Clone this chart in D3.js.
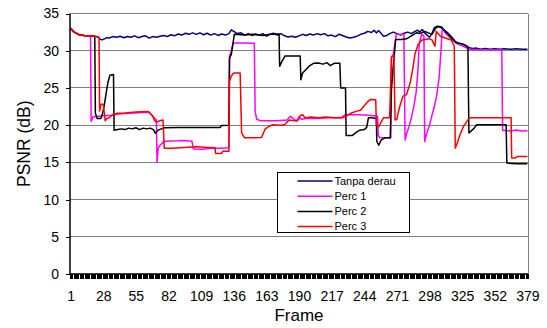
<!DOCTYPE html>
<html>
<head>
<meta charset="utf-8">
<script src="https://cdn.jsdelivr.net/npm/d3@7"></script>
<style>
  html, body { margin: 0; padding: 0; background: #fff; }
  svg { display: block; font-family: Arial, "Liberation Sans", sans-serif; }
</style>
</head>
<body>
<div id="chart"></div>
<script>
// Tick labels
const frameTicks = [1, 28, 55, 82, 109, 136, 163, 190, 217, 244, 271, 298, 325, 352, 379];
const psnrTicks = [0, 5, 10, 15, 20, 25, 30, 35];
const seriesNames = ["Tanpa derau", "Perc 1", "Perc 2", "Perc 3"];

// [frame, PSNR dB]
const tanpaDerau = [[1,33.0],[4,32.5],[8,32.15],[12,32.05],[16,32.0],[20,31.95],[23,31.9],[25,31.6],[27,31.45],[29,31.6],[31,31.75],[33,31.7],[36,31.9],[39,31.8],[42,31.95],[45,31.75],[48,31.9],[51,31.8],[54,32.0],[57,31.75],[60,31.9],[63,32.0],[66,31.7],[69,31.9],[72,31.8],[75,31.95],[78,32.05],[81,31.9],[84,32.15],[87,32.0],[90,32.25],[93,32.1],[96,32.35],[99,32.2],[102,32.4],[105,32.2],[108,32.4],[111,32.15],[114,32.35],[117,32.1],[120,32.3],[123,32.05],[126,32.25],[129,32.1],[132,32.3],[134,32.8],[136,32.6],[139,32.3],[142,32.4],[145,32.1],[148,32.3],[151,32.05],[154,32.25],[157,32.1],[160,32.3],[163,31.95],[166,32.2],[169,32.35],[172,32.1],[175,32.3],[178,32.0],[181,31.85],[184,31.95],[187,31.8],[190,32.0],[193,32.2],[196,32.05],[199,32.25],[202,32.1],[205,32.3],[208,32.15],[211,32.3],[214,32.0],[217,32.1],[220,31.9],[223,32.2],[226,32.05],[229,31.85],[232,31.7],[235,31.8],[238,31.95],[241,32.2],[244,32.35],[247,32.6],[250,32.45],[252,32.75],[254,32.4],[256,32.7],[258,32.3],[260,31.95],[262,32.0],[265,32.3],[268,32.5],[271,32.3],[274,32.1],[277,32.35],[280,32.5],[283,32.3],[286,32.6],[288,32.75],[290,32.5],[292,32.85],[294,32.4],[296,32.1],[298,31.8],[300,32.3],[302,33.1],[304,33.25],[306,33.2],[308,33.05],[310,32.8],[313,32.4],[316,31.9],[319,31.3],[322,31.0],[325,30.9],[328,30.7],[331,30.4],[334,30.3],[337,30.35],[340,30.2],[344,30.3],[348,30.2],[352,30.25],[356,30.2],[360,30.25],[365,30.2],[370,30.25],[375,30.2],[379,30.2]];

const perc1 = [[1,33.0],[4,32.5],[8,32.15],[12,32.05],[17.5,31.95],[18,20.5],[19.5,21.1],[24,21.2],[30,21.3],[35,21.3],[40,21.5],[50,21.6],[60,21.7],[66,21.7],[69,21.2],[72,20.7],[72.5,15.0],[73.5,16.9],[75,17.3],[77,17.6],[79.4,17.85],[90,17.9],[95,17.95],[101.4,17.85],[102.5,16.8],[110,16.75],[118,16.9],[126,16.9],[132,16.95],[132.5,29.3],[134,30.0],[135.5,31.05],[145,31.05],[153,31.0],[153.7,21.85],[155,20.8],[158,20.6],[165,20.6],[172,20.6],[180,20.7],[183,21.2],[185,20.9],[188,20.5],[190,21.1],[192,20.8],[196,20.9],[205,20.9],[215,21.0],[225,21.0],[228,21.4],[240,21.4],[250,21.3],[255,21.2],[255.6,18.6],[257,18.3],[266,18.3],[266.5,29.0],[268,29.5],[270.5,32.2],[276.8,32.2],[277.8,18.0],[279,18.8],[281,19.8],[283,21.0],[285,22.5],[287,24.5],[288.5,27.5],[289.5,31.0],[291.5,32.2],[293.4,32.0],[294,17.8],[295.5,18.8],[298,20.0],[300,21.3],[302,22.5],[304,24.0],[306,26.5],[307.5,30.0],[308.5,33.0],[311,32.4],[316,31.6],[320,31.0],[326,30.6],[331,30.2],[340,30.1],[350,30.1],[357.8,30.1],[358.5,19.3],[365,19.2],[370,19.35],[374,19.2],[379,19.25]];

const perc2 = [[1,33.0],[4,32.5],[8,32.15],[12,32.05],[16,32.0],[21,31.95],[21.5,21.6],[23,20.9],[26,20.9],[27.5,21.6],[29,22.8],[30.5,24.4],[32,25.8],[33.5,26.7],[36.5,26.8],[37,19.3],[40,19.4],[43,19.5],[46,19.4],[49,19.6],[52,19.5],[55,19.65],[58,19.4],[61,19.6],[64,19.5],[67,19.6],[69.5,19.4],[71.2,18.9],[73,19.3],[76,19.5],[79,19.65],[90,19.7],[100,19.7],[110,19.7],[124.8,19.7],[126,19.95],[132,20.0],[132.5,29.0],[134,29.5],[136.5,32.2],[145,32.1],[152,32.2],[160,32.05],[166,32.2],[173.5,32.25],[174,27.9],[176,28.6],[178.5,29.3],[185,29.3],[191,29.3],[191.5,26.1],[193,27.0],[196,27.5],[199,28.0],[202,28.3],[206,28.35],[210,28.2],[213,28.4],[216,28.0],[219,28.3],[223.8,28.3],[224.5,25.0],[228.5,25.0],[229,18.6],[234,18.6],[237,19.0],[240,19.3],[244,19.4],[246,19.7],[247.5,21.0],[250,21.0],[254,20.9],[254.4,17.8],[256,17.3],[258,18.0],[261,18.3],[265.5,18.3],[266.5,24.8],[268,27.9],[270,31.5],[275,31.5],[279,31.6],[283,32.0],[287,32.4],[290,32.3],[294,32.6],[297,32.4],[300,32.2],[303,33.0],[305,33.3],[308,33.2],[311,32.6],[314,32.1],[316,31.7],[320,31.1],[324,30.95],[327,30.8],[329.8,30.4],[330.6,18.95],[333,19.3],[335,19.6],[337,20.05],[345,20.05],[355,20.05],[361.4,20.05],[362,14.9],[370,14.8],[379,14.8]];

const perc3 = [[1,33.0],[4,32.5],[8,32.15],[12,32.05],[16,32.0],[20,31.95],[24.5,31.8],[25,21.9],[26,22.8],[28,22.8],[29,21.5],[29.6,20.6],[31,20.9],[33,21.0],[35,21.3],[37,21.5],[40,21.6],[45,21.6],[50,21.7],[55,21.75],[60,21.8],[65,21.85],[67,21.6],[69,21.2],[70.5,20.6],[72,20.4],[75,20.6],[77.5,20.7],[78.5,16.9],[85,16.9],[95,17.0],[105,17.1],[115,17.0],[120.5,16.95],[121,16.2],[126,16.2],[127,16.5],[132,16.5],[132.5,25.9],[134,26.6],[136,27.0],[141.3,27.0],[142.5,18.95],[145,18.3],[152,18.3],[159,18.35],[162,19.5],[165,19.8],[168,20.05],[175,20.0],[178.5,20.1],[180,20.4],[182,20.7],[186,20.6],[189.5,20.7],[191,21.3],[193,21.4],[195,21.0],[200,21.1],[206,21.0],[212,21.1],[220,21.0],[226,21.0],[229,21.2],[233,21.6],[237,21.85],[241,22.0],[244,22.6],[247.2,23.2],[249,23.45],[253.5,23.4],[254,20.1],[256,19.8],[258,20.4],[260,21.0],[265,21.0],[266.5,29.2],[268.5,29.4],[269.5,20.7],[271,20.8],[273,22.3],[276,23.9],[279,24.1],[282,25.7],[284,27.4],[286,29.6],[288.5,30.8],[291.5,31.4],[294,31.5],[298,31.6],[300,31.45],[302.5,30.6],[303.6,32.6],[307,31.95],[311,31.7],[316,31.45],[318.5,30.6],[319.3,16.9],[321,17.6],[323,18.6],[326,19.8],[329,20.5],[331,21.0],[340,21.0],[350,21.0],[360,21.0],[365.5,21.0],[366,15.6],[369,15.6],[371,15.8],[379,15.8]];

const seriesData = [tanpaDerau, perc1, perc2, perc3];
const seriesColors = ["#000080", "#ff00ff", "#000000", "#ff0000"];

// Layout
const width = 547, height = 328;
const margin = {top: 13.5, right: 19, bottom: 54, left: 70};
const plotRight = width - margin.right;
const plotBottom = height - margin.bottom;

const x = d3.scaleLinear()
  .domain([0.5, 379.5])
  .range([margin.left, plotRight]);
const y = d3.scaleLinear()
  .domain([0, 35])
  .range([plotBottom, margin.top]);

const svg = d3.select("#chart").append("svg")
  .attr("width", width)
  .attr("height", height)
  .attr("viewBox", [0, 0, width, height]);

// Gridlines and plot border
svg.append("g")
  .attr("stroke", "#808080")
  .attr("shape-rendering", "crispEdges")
  .call(g => g.selectAll("line")
    .data(psnrTicks.filter(d => d > 0))
    .join("line")
      .attr("x1", margin.left)
      .attr("x2", plotRight)
      .attr("y1", d => y(d))
      .attr("y2", d => y(d)))
  .call(g => g.append("line")
    .attr("x1", plotRight).attr("x2", plotRight)
    .attr("y1", y(35)).attr("y2", y(0)));

// Series
const line = d3.line()
  .x(d => x(d[0]))
  .y(d => y(d[1]));

svg.append("g")
  .attr("fill", "none")
  .attr("stroke-width", 1.5)
  .attr("stroke-linejoin", "round")
  .selectAll("path")
  .data(seriesData)
  .join("path")
    .attr("stroke", (d, i) => seriesColors[i])
    .attr("d", line);

// Y axis
svg.append("g")
  .attr("transform", `translate(${margin.left},0)`)
  .call(d3.axisLeft(y).tickValues(psnrTicks).tickSize(4).tickPadding(7))
  .call(g => g.select(".domain").remove())
  .call(g => g.selectAll(".tick line").attr("stroke", "#000").attr("shape-rendering", "crispEdges"))
  .call(g => g.selectAll(".tick text")
    .attr("font-size", 14)
    .attr("font-family", "Arial, 'Liberation Sans', sans-serif")
    .attr("fill", "#000"));

// X axis: dense category ticks, labels every 27 frames
svg.append("g")
  .attr("transform", `translate(0,${plotBottom})`)
  .call(d3.axisBottom(x).tickValues(d3.range(0.5, 380, 1)).tickSize(5).tickFormat(""))
  .call(g => g.select(".domain").remove())
  .call(g => g.selectAll(".tick line")
    .attr("stroke", "#000")
    .attr("stroke-width", 1)
    .attr("shape-rendering", "crispEdges"));

svg.append("g")
  .attr("transform", `translate(0,${plotBottom})`)
  .call(d3.axisBottom(x).tickValues(frameTicks).tickSize(0).tickPadding(17))
  .call(g => g.select(".domain").remove())
  .call(g => g.selectAll(".tick text")
    .attr("font-size", 14)
    .attr("font-family", "Arial, 'Liberation Sans', sans-serif")
    .attr("fill", "#000"));

// Axis lines
svg.append("g")
  .attr("stroke", "#000")
  .attr("stroke-width", 1.5)
  .call(g => g.append("line")
    .attr("x1", margin.left).attr("x2", margin.left)
    .attr("y1", y(35)).attr("y2", y(0)))
  .call(g => g.append("line")
    .attr("x1", margin.left).attr("x2", plotRight)
    .attr("y1", y(0)).attr("y2", y(0)));

// Axis titles
svg.append("text")
  .attr("x", (margin.left + plotRight) / 2)
  .attr("y", 321)
  .attr("text-anchor", "middle")
  .attr("font-size", 17)
  .text("Frame");

svg.append("text")
  .attr("transform", `translate(30,${(margin.top + plotBottom) / 2}) rotate(-90)`)
  .attr("text-anchor", "middle")
  .attr("font-size", 17.5)
  .text("PSNR (dB)");

// Legend
const legend = svg.append("g")
  .attr("transform", "translate(277.5,172.5)");
legend.append("rect")
  .attr("width", 132)
  .attr("height", 60)
  .attr("fill", "#fff")
  .attr("stroke", "#000");
const item = legend.selectAll("g.item")
  .data(seriesNames)
  .join("g")
    .attr("class", "item")
    .attr("transform", (d, i) => `translate(0,${8.5 + i * 15.2})`);
item.append("line")
  .attr("x1", 20).attr("x2", 55)
  .attr("stroke", (d, i) => seriesColors[i])
  .attr("stroke-width", 1.5);
item.append("text")
  .attr("x", 57)
  .attr("dy", "0.35em")
  .attr("font-size", 11)
  .text(d => d);
</script>
</body>
</html>
